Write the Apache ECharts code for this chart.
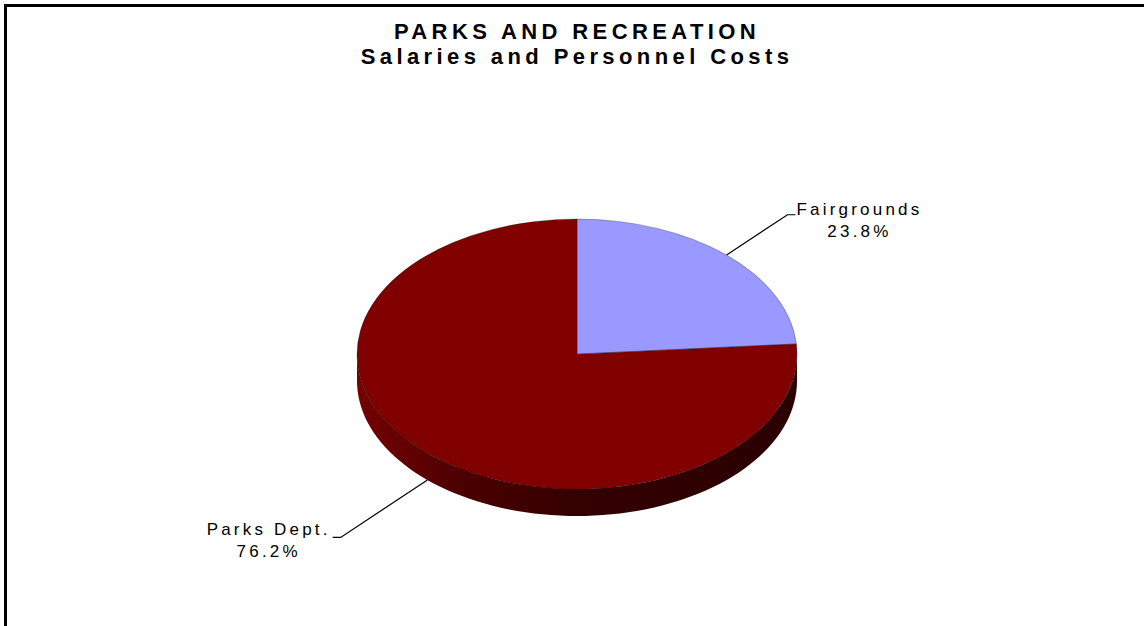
<!DOCTYPE html>
<html>
<head>
<meta charset="utf-8">
<title>Parks and Recreation - Salaries and Personnel Costs</title>
<script src="https://cdn.jsdelivr.net/npm/echarts@6/dist/echarts.min.js"></script>
<style>
    html, body { margin: 0; padding: 0; background: #fff; }
    #chart { width: 1144px; height: 626px; }
    /* echarts has no letter spacing option, the svg text takes it from css */
    #chart text { letter-spacing: 3.2px; }
    #chart text[style*="bold"] { letter-spacing: 4.4px; }
</style>
</head>
<body>
<div id="chart"></div>
<script>
/* data */
const categories = ['Fairgrounds', 'Parks Dept.'];
const values = [23.8, 76.2];

/* look */
const topColors = ['#9999ff', '#800000'];
const sideColors = ['#4d4d80', '#3a0000'];
const leaderLen = [73, 104];
const cx = 577, cy = 354, rx = 220, ry = 135, depth = 27;
const font = '"Liberation Sans", Arial, sans-serif';

let total = values.reduce(function (a, b) { return a + b; }, 0);
let startAngles = [], acc = 0;
values.forEach(function (v) {
    startAngles.push(-Math.PI / 2 + acc / total * Math.PI * 2);
    acc += v;
});

let sliceAngles = function (i, v) {
    let a0 = startAngles[i];
    return [a0, a0 + v / total * Math.PI * 2];
};

/* side wall, only the front half of the rim shows */
let renderSide = function (params, api) {
    let i = params.dataIndex;
    let a = sliceAngles(i, api.value(0));
    let children = [];
    for (let k = -1; k <= 1; k++) {
        let lo = Math.max(a[0], Math.PI * 2 * k);
        let hi = Math.min(a[1], Math.PI * 2 * k + Math.PI);
        if (hi <= lo) continue;
        let pts = [], steps = 80;
        for (let s = 0; s <= steps; s++) {
            let t = lo + (hi - lo) * s / steps;
            pts.push([cx + rx * Math.cos(t), cy + ry * Math.sin(t)]);
        }
        for (let s = steps; s >= 0; s--) {
            let t = lo + (hi - lo) * s / steps;
            pts.push([cx + rx * Math.cos(t), cy + ry * Math.sin(t) + depth]);
        }
        children.push({
            type: 'polygon',
            shape: { points: pts },
            style: {
                fill: i === 1 ? new echarts.graphic.LinearGradient(0, 0, 1, 0, [
                    { offset: 0, color: '#760000' },
                    { offset: 0.25, color: '#4a0000' },
                    { offset: 0.5, color: '#340000' },
                    { offset: 1, color: '#2a0000' }
                ]) : sideColors[i]
            }
        });
    }
    return { type: 'group', children: children };
};

/* top face plus label */
let renderTop = function (params, api) {
    let i = params.dataIndex;
    let v = api.value(0);
    let a = sliceAngles(i, v);
    let mid = (a[0] + a[1]) / 2;
    let dx = rx * Math.cos(mid), dy = ry * Math.sin(mid);
    let sx = cx + dx, sy = cy + dy + (dy > 0 ? depth : 0);
    let n = Math.hypot(dx, dy);
    let ex = sx + dx / n * leaderLen[i], ey = sy + dy / n * leaderLen[i];
    let dir = dx > 0 ? 1 : -1;
    let tx = ex + dir * 8;
    return {
        type: 'group',
        children: [
            {
                type: 'sector',
                shape: { cx: cx, cy: cy, r: rx, r0: 0, startAngle: a[0], endAngle: a[1], clockwise: true },
                originX: cx,
                originY: cy,
                scaleY: ry / rx,
                style: { fill: topColors[i], stroke: 'rgba(0,0,0,0.35)', lineWidth: 1, strokeNoScale: true }
            },
            {
                type: 'polyline',
                shape: { points: [[sx, sy], [ex, ey], [tx, ey]] },
                style: { stroke: '#000', lineWidth: 1.2, fill: null }
            },
            {
                type: 'text',
                x: tx + dir * 64,
                y: ey + (dy > 0 ? 3 : 6),
                style: {
                    text: categories[i] + '\n' + (v / total * 100).toFixed(1) + '%',
                    fontFamily: font,
                    fontSize: 17,
                    lineHeight: 22,
                    fill: '#000',
                    align: 'center',
                    verticalAlign: 'middle'
                }
            }
        ]
    };
};

let myChart = echarts.init(document.getElementById('chart'), null, { renderer: 'svg' });
let options = {
    animation: false,
    backgroundColor: '#fff',
    graphic: [
        {
            type: 'rect',
            shape: { x: 5.5, y: 5.5, width: 1300, height: 800 },
            style: { fill: null, stroke: '#000', lineWidth: 3 }
        },
        {
            type: 'text',
            x: 577,
            y: 19,
            style: {
                text: 'PARKS AND RECREATION\nSalaries and Personnel Costs',
                fontFamily: font,
                fontSize: 22,
                fontWeight: 'bold',
                lineHeight: 25,
                fill: '#000',
                align: 'center',
                verticalAlign: 'top'
            }
        }
    ],
    series: [
        {
            type: 'custom',
            name: 'side',
            coordinateSystem: 'none',
            renderItem: renderSide,
            data: values,
            z: 1,
            silent: true
        },
        {
            type: 'custom',
            name: 'top',
            coordinateSystem: 'none',
            renderItem: renderTop,
            data: values,
            z: 2,
            silent: true
        }
    ]
};
myChart.setOption(options);
</script>
</body>
</html>
